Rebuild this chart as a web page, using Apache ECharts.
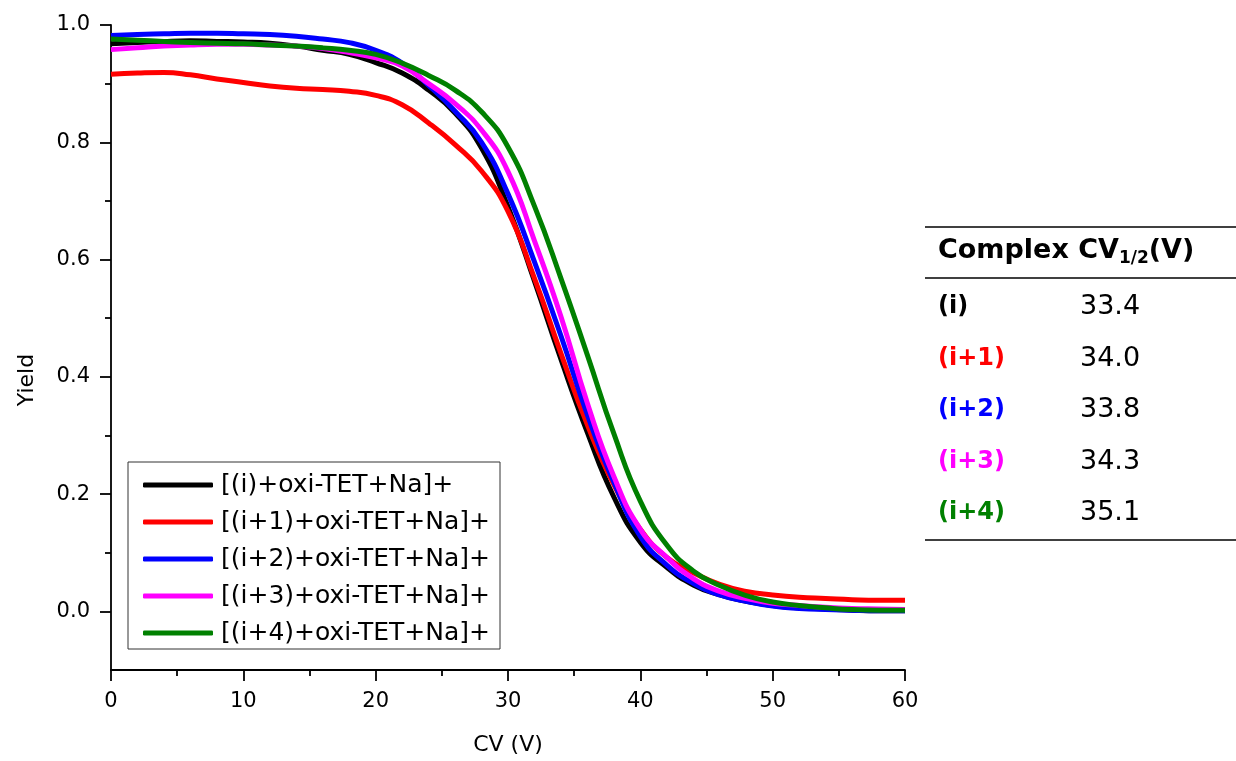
<!DOCTYPE html>
<html>
<head>
<meta charset="utf-8">
<script src="https://cdn.jsdelivr.net/npm/echarts@6/dist/echarts.min.js"></script>
<style>
  html, body { margin: 0; padding: 0; background: #fff; }
  #chart { width: 1236px; height: 761px; }
</style>
</head>
<body>
<div id="chart"></div>
<script>
'use strict';
// DATA
const cv = [0, 2, 4, 6, 8, 10, 12, 14, 16, 18, 20, 22, 24, 26, 28, 30, 32, 34, 36, 38,
  40, 42, 44, 46, 48, 50, 52, 54, 56, 58, 60];
const yieldI = [0.968, 0.970, 0.972, 0.973, 0.972, 0.971, 0.969, 0.964, 0.957, 0.950,
  0.936, 0.918, 0.889, 0.850, 0.790, 0.690, 0.563, 0.430, 0.305, 0.195, 0.118, 0.075,
  0.045, 0.028, 0.017, 0.010, 0.006, 0.004, 0.002, 0.001, 0.001];
const yieldI1 = [0.916, 0.918, 0.919, 0.915, 0.908, 0.902, 0.896, 0.892, 0.890, 0.887,
  0.880, 0.864, 0.833, 0.796, 0.751, 0.682, 0.568, 0.440, 0.318, 0.216, 0.140, 0.092,
  0.066, 0.046, 0.034, 0.028, 0.024, 0.022, 0.020, 0.019, 0.019];
const yieldI2 = [0.982, 0.984, 0.985, 0.986, 0.986, 0.985, 0.984, 0.981, 0.976, 0.970,
  0.957, 0.935, 0.897, 0.853, 0.800, 0.712, 0.596, 0.470, 0.335, 0.220, 0.128, 0.079,
  0.048, 0.028, 0.017, 0.009, 0.005, 0.003, 0.002, 0.001, 0.001];
const yieldI3 = [0.958, 0.961, 0.964, 0.966, 0.967, 0.967, 0.966, 0.964, 0.960, 0.953,
  0.944, 0.930, 0.900, 0.866, 0.821, 0.750, 0.632, 0.503, 0.355, 0.230, 0.140, 0.092,
  0.056, 0.034, 0.022, 0.014, 0.010, 0.007, 0.005, 0.004, 0.003];
const yieldI4 = [0.976, 0.974, 0.972, 0.970, 0.969, 0.968, 0.966, 0.964, 0.961, 0.957,
  0.950, 0.935, 0.914, 0.889, 0.852, 0.792, 0.691, 0.568, 0.437, 0.303, 0.188, 0.113,
  0.069, 0.044, 0.027, 0.016, 0.010, 0.006, 0.003, 0.002, 0.002];
const seriesNames = ['[(i)+oxi-TET+Na]+', '[(i+1)+oxi-TET+Na]+', '[(i+2)+oxi-TET+Na]+',
  '[(i+3)+oxi-TET+Na]+', '[(i+4)+oxi-TET+Na]+'];
const seriesColors = ['#000000', '#ff0000', '#0000ff', '#ff00ff', '#008000'];
const xTicks = [0, 10, 20, 30, 40, 50, 60];
const yTicks = [0, 0.2, 0.4, 0.6, 0.8, 1.0];
const yMinorTicks = [0.1, 0.3, 0.5, 0.7, 0.9];
const complexLabels = ['(i)', '(i+1)', '(i+2)', '(i+3)', '(i+4)'];
const cvHalf = ['33.4', '34.0', '33.8', '34.3', '35.1'];

const FONT = 'DejaVu Sans';
const allYields = [yieldI, yieldI1, yieldI2, yieldI3, yieldI4];
const myChart = echarts.init(document.getElementById('chart'));

/**
 * Builds the line series from the arrays
 * @return {Array}
 */
function buildSeries() {
  return allYields.map((values, i) => ({
    name: seriesNames[i],
    type: 'line',
    smooth: 0.5,
    showSymbol: false,
    symbol: 'none',
    lineStyle: {color: seriesColors[i], width: 5},
    itemStyle: {color: seriesColors[i]},
    data: values.map((v, k) => [cv[k], v]),
  }));
}

/**
 * Table on the right side and the y axis title, drawn with graphic elements
 * @return {Array}
 */
function buildGraphics() {
  const left = 925;
  const right = 1236;
  const elements = [
    {
      type: 'text', x: 27, y: 380, rotation: Math.PI / 2,
      style: {text: 'Yield', fontFamily: FONT, fontSize: 22, fill: '#000',
        align: 'center', verticalAlign: 'middle'},
    },
    {type: 'line', shape: {x1: left, y1: 227, x2: right, y2: 227},
      style: {stroke: '#000', lineWidth: 1.5}},
    {type: 'line', shape: {x1: left, y1: 278, x2: right, y2: 278},
      style: {stroke: '#000', lineWidth: 1.5}},
    {type: 'line', shape: {x1: left, y1: 540, x2: right, y2: 540},
      style: {stroke: '#000', lineWidth: 1.5}},
    {
      type: 'text', left: 938, top: 237,
      style: {
        text: '{b|Complex CV}{s|1/2}{b|(V)}',
        rich: {
          b: {fontFamily: FONT, fontSize: 27, fontWeight: 'bold', fill: '#000',
            lineHeight: 34, verticalAlign: 'middle'},
          s: {fontFamily: FONT, fontSize: 17, fontWeight: 'bold', fill: '#000',
            lineHeight: 17, verticalAlign: 'bottom'},
        },
      },
    },
  ];
  complexLabels.forEach((label, i) => {
    const y = 307 + i * 51.5;
    elements.push({
      type: 'text', x: 938, y: y,
      style: {text: label, fontFamily: FONT, fontSize: 24, fontWeight: 'bold',
        fill: seriesColors[i], verticalAlign: 'middle'},
    });
    elements.push({
      type: 'text', x: 1080, y: y,
      style: {text: cvHalf[i], fontFamily: FONT, fontSize: 27,
        fill: '#000', verticalAlign: 'middle'},
    });
  });
  return elements;
}

const axisLineStyle = {color: '#000', width: 1.8};
const option = {
  backgroundColor: '#fff',
  animation: false,
  grid: {left: 111, right: 331, top: 25, bottom: 91},
  legend: {
    orient: 'vertical',
    left: 128,
    top: 462,
    padding: [10, 10, 3, 15],
    itemGap: 11,
    itemWidth: 70,
    itemHeight: 5,
    icon: 'roundRect',
    borderColor: '#333',
    borderWidth: 1,
    textStyle: {fontFamily: FONT, fontSize: 25, color: '#000', lineHeight: 26,
      padding: [0, 0, 0, 3]},
    data: seriesNames,
  },
  xAxis: {
    type: 'value',
    min: 0,
    max: 60,
    interval: 10,
    name: 'CV (V)',
    nameLocation: 'middle',
    nameGap: 64,
    nameTextStyle: {fontFamily: FONT, fontSize: 22, color: '#000'},
    axisLine: {onZero: false, lineStyle: axisLineStyle},
    axisTick: {length: 11, lineStyle: axisLineStyle, customValues: xTicks},
    minorTick: {show: true, splitNumber: 2, length: 6, lineStyle: axisLineStyle},
    axisLabel: {fontFamily: FONT, fontSize: 21, color: '#000', margin: 21,
      customValues: xTicks},
    splitLine: {show: false},
  },
  yAxis: [
    {
      type: 'value',
      min: -0.1,
      max: 1.0,
      axisLine: {show: true, onZero: false, lineStyle: axisLineStyle},
      axisTick: {show: true, length: 11, lineStyle: axisLineStyle, customValues: yTicks},
      axisLabel: {fontFamily: FONT, fontSize: 21, color: '#000', margin: 21,
        customValues: yTicks, formatter: (v) => v.toFixed(1)},
      splitLine: {show: false},
    },
    {
      type: 'value',
      min: -0.1,
      max: 1.0,
      position: 'left',
      axisLine: {show: false, onZero: false},
      axisTick: {show: true, length: 6, lineStyle: axisLineStyle, customValues: yMinorTicks},
      axisLabel: {show: false},
      splitLine: {show: false},
    },
  ],
  series: buildSeries(),
  graphic: buildGraphics(),
};

myChart.setOption(option);
</script>
</body>
</html>
